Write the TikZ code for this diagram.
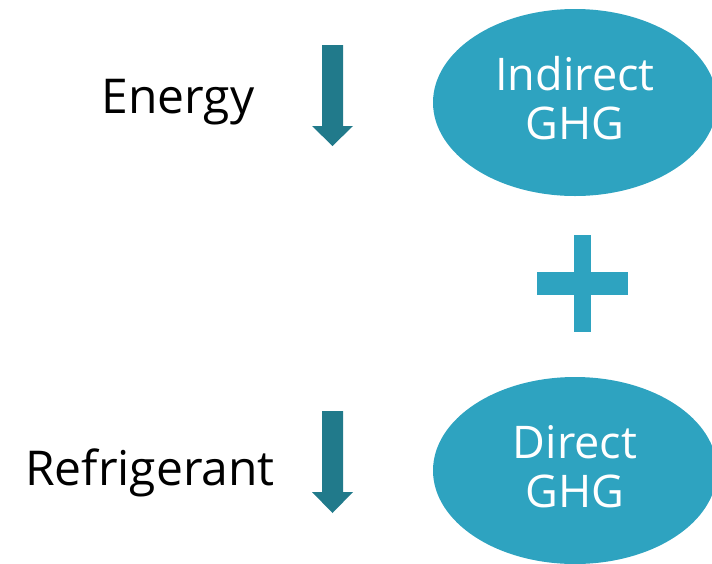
\documentclass[tikz,border=0pt]{standalone}
\usepackage{fontspec}
\setmainfont{Open Sans}
\usetikzlibrary{shapes.geometric}
\definecolor{ghgblue}{HTML}{2EA3C0}
\definecolor{arrowteal}{HTML}{217A8B}
\tikzset{ghg/.style={ellipse,fill=ghgblue,text=white,inner sep=0pt,
    minimum width=284pt,minimum height=187pt,align=center,text depth=9pt,
    font=\fontsize{45}{49}\selectfont},
  source/.style={anchor=base,font=\fontsize{48}{50}\selectfont}}
\begin{document}
\begin{tikzpicture}[x=1pt,y=-1pt]
      \useasboundingbox (0,0) rectangle (712,563);
      \node[source] (energy) at (178,113) {Energy};
      \node[source] (refrigerant) at (150,485) {Refrigerant};
      \fill[arrowteal] (322,45)--(343,45)--(343,126)--(353,126)--(332.5,146)
        --(312,126)--(322,126)--cycle;
      \fill[arrowteal] (322,411)--(343,411)--(343,492)--(353,492)--(332.5,513)
        --(312,492)--(322,492)--cycle;
      \node[ghg] (indirect) at (575,102.5) {Indirect\\GHG};
      \node[ghg] (direct) at (575,470.5) {Direct\\GHG};
      \fill[ghgblue] (574,235) rectangle (591,332);
      \fill[ghgblue] (537,272) rectangle (628,295);
     \end{tikzpicture}
\end{document}
